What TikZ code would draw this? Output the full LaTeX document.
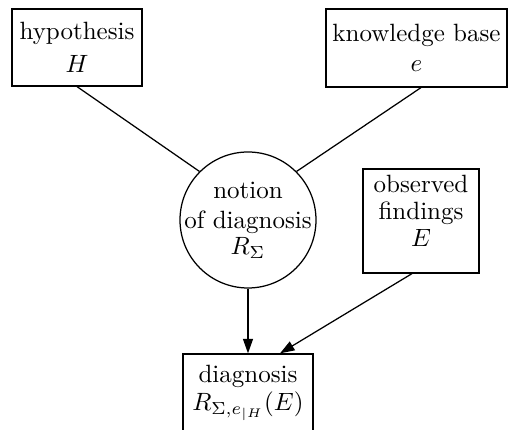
\documentclass[tikz,border=0pt]{standalone}
\usetikzlibrary{arrows.meta}
\begin{document}
\begin{tikzpicture}[x=0.4pt,y=-0.4pt,
  box/.style={draw, line width=0.5pt, inner sep=0pt, align=center},
  conn/.style={line width=0.5pt},
  arr/.style={conn, -{Triangle[length=5.8pt,width=4pt]}}]
\useasboundingbox (0,0) rectangle (508,430);
\node[box, minimum width=52pt, minimum height=30.8pt] (hyp) at (77,47.5) {hypothesis\\[1pt]$H$};
\node[box, minimum width=72.4pt, minimum height=31.2pt] (kb) at (416.5,48) {knowledge base\\$e$};
\node[box, circle, inner sep=-5pt, minimum size=54.4pt] (circ) at (248,220) {notion\\of diagnosis\\[-1.5pt]$R_\Sigma$};
\node[box, minimum width=46.4pt, minimum height=41.6pt, text depth=8pt] (obs) at (421,221) {observed\\[-1.2pt]findings\\[-1.2pt]$E$};
\node[box, minimum width=52pt, minimum height=31.2pt] (diag) at (248,393) {diagnosis\\[-0.8pt]$R_{\Sigma,e_{|H}}(E)$};
\draw[conn] (hyp.south) -- (circ.135);
\draw[conn] ([xshift=1.8pt]kb.south) -- (circ.45);
\draw[arr] (circ.south) -- (diag.north);
\draw[arr] ([xshift=-3.6pt]obs.south) -- ([xshift=12.8pt]diag.north);
\end{tikzpicture}
\end{document}
